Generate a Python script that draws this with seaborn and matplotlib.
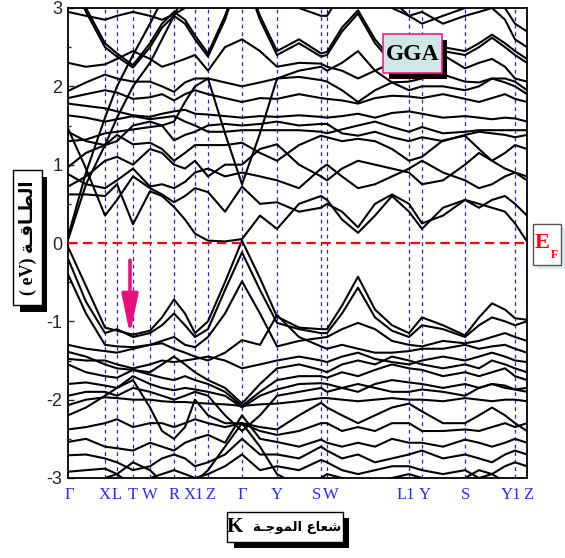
import numpy as np
import pandas as pd
import matplotlib
matplotlib.use("Agg")
import matplotlib.pyplot as plt
import seaborn as sns
from matplotlib.patches import Rectangle

# ---------------- data ----------------
HS_LABELS = ["Γ", "X", "L", "T", "W", "R", "X1", "Z", "Γ", "Y", "S", "W", "L1", "Y", "S", "Y1", "Z"]
HS_POS = [0.00, 0.37, 0.49, 0.65, 0.82, 1.06, 1.27, 1.40, 1.74, 2.09, 2.53, 2.59, 3.41, 3.54, 3.97, 4.47, 4.59]

K = [0.00, 0.18, 0.37, 0.49, 0.65, 0.82, 0.94, 1.06, 1.17, 1.27, 1.40,
     1.57, 1.74, 1.92, 2.09, 2.31, 2.53, 2.59,
     2.74, 2.90, 3.07, 3.24, 3.41, 3.54,
     3.75, 3.97, 4.11, 4.24, 4.37, 4.47, 4.59]

# conduction bands (eV)
Ca = [0.04, 0.75, 1.25, 1.60, 2.00, 2.30, 2.60, 2.90, 3.20, 3.40, 3.40,  3.50, 3.50, 3.50, 3.30, 3.10, 3.00, 3.00,  3.30, 3.40, 3.30, 3.10, 2.90, 2.80,  2.90, 3.00, 3.20, 3.20, 3.00, 2.80, 2.70]
Cb = [0.08, 0.90, 1.60, 2.00, 2.40, 2.80, 3.10, 3.40, 3.50, 3.50, 3.50,  3.50, 3.50, 3.50, 3.50, 3.50, 3.50, 3.50,  3.50, 3.50, 3.50, 3.50, 3.50, 3.50,  3.50, 3.50, 3.50, 3.50, 3.50, 3.50, 3.50]
Ctop1 = [3.50, 3.00, 2.55, 2.42, 2.27, 2.55, 2.80, 2.95, 2.85, 2.65, 2.42,  2.90, 3.50, 2.90, 2.45, 2.60, 2.42, 2.44,  2.75, 2.97, 2.60, 2.34, 2.30, 2.35,  2.50, 2.45, 2.55, 2.66, 2.55, 2.45, 2.35]
Ctop2 = [3.50, 2.95, 2.50, 2.38, 2.24, 2.50, 2.75, 2.90, 2.80, 2.60, 2.38,  2.85, 3.50, 2.85, 2.40, 2.55, 2.38, 2.40,  2.70, 2.93, 2.55, 2.30, 2.26, 2.30,  2.45, 2.40, 2.50, 2.62, 2.50, 2.40, 2.30]
Ctop3 = [2.95, 2.90, 2.85, 2.90, 2.95, 2.90, 2.85, 2.92, 3.00, 3.10, 3.20,  3.50, 3.50, 3.50, 3.20, 3.00, 2.90, 2.90,  3.20, 3.40, 3.20, 3.00, 2.90, 2.95,  2.80, 2.90, 2.95, 3.00, 2.85, 2.60, 2.50]
Ch1 = [2.30, 2.25, 2.28, 2.35, 2.45, 2.35, 2.25, 2.30, 2.35, 2.40, 2.20,  2.50, 2.60, 2.45, 2.25, 2.30, 2.29, 2.25,  2.20, 2.10, 2.20, 2.30, 2.36, 2.53,  2.40, 2.23, 2.30, 2.35, 2.25, 2.10, 2.06]
Cm1 = [1.94, 2.05, 2.15, 2.10, 2.06, 2.06, 2.00, 1.93, 2.05, 2.10, 2.10,  2.05, 2.00, 2.05, 2.10, 2.12, 2.08, 2.06,  1.95, 1.80, 1.95, 2.05, 2.06, 2.10,  2.15, 2.06, 2.05, 2.10, 2.10, 2.06, 1.95]
Cm2 = [1.85, 1.90, 1.95, 1.92, 1.84, 1.86, 1.90, 1.82, 1.90, 1.95, 1.90,  1.85, 1.80, 1.85, 1.84, 1.90, 1.85, 1.84,  1.82, 1.78, 1.85, 1.88, 1.87, 1.85,  1.90, 1.84, 1.80, 1.85, 1.90, 1.84, 1.80]
Cm3 = [1.78, 1.75, 1.72, 1.68, 1.63, 1.61, 1.65, 1.68, 1.70, 1.65, 1.64,  1.62, 1.60, 1.62, 1.61, 1.63, 1.61, 1.60,  1.62, 1.65, 1.60, 1.66, 1.68, 1.65,  1.60, 1.62, 1.60, 1.58, 1.60, 1.59, 1.55]
Cl1 = [1.63, 1.60, 1.55, 1.58, 1.62, 1.58, 1.60, 1.62, 1.55, 1.50, 1.42,  1.42, 1.44, 1.44, 1.44, 1.44, 1.42, 1.40,  1.45, 1.50, 1.55, 1.48, 1.42, 1.48,  1.40, 1.42, 1.44, 1.44, 1.44, 1.44, 1.44]
Cl2 = [1.42, 1.30, 1.25, 1.30, 1.50, 1.55, 1.50, 1.31, 1.38, 1.42, 1.50,  1.52, 1.50, 1.52, 1.55, 1.50, 1.52, 1.52,  1.40, 1.37, 1.42, 1.35, 1.30, 1.35,  1.30, 1.38, 1.42, 1.40, 1.38, 1.35, 1.38]
Cn1 = [0.97, 1.15, 1.25, 1.38, 1.26, 1.28, 1.20, 1.05, 1.15, 1.25, 1.25,  1.25, 1.28, 1.15, 1.05, 1.25, 1.37, 1.35,  1.30, 1.33, 1.30, 1.20, 1.05, 1.10,  1.31, 1.37, 1.20, 1.05, 1.15, 1.25, 1.20]
Cn2 = [0.72, 0.85, 1.05, 1.10, 1.00, 1.20, 1.15, 1.00, 0.95, 1.05, 0.85,  1.00, 1.00, 1.20, 1.26, 1.00, 0.85, 0.80,  0.95, 1.05, 1.00, 0.95, 0.90, 0.75,  0.80, 1.00, 1.15, 1.05, 0.95, 0.90, 0.85]
Co3 = [0.88, 0.75, 0.70, 0.80, 0.95, 0.72, 0.75, 0.70, 0.78, 0.90, 0.95,  0.85, 0.90, 0.85, 0.80, 0.70, 0.95, 1.00,  0.85, 0.70, 0.75, 0.85, 0.95, 1.05,  0.90, 0.80, 0.70, 0.75, 0.85, 0.90, 0.80]
Co2 = [1.46, 0.95, 0.35, 0.55, 0.85, 0.70, 0.62, 0.52, 0.60, 0.70, 0.65,  0.40, 0.72, 0.50, 0.52, 0.40, 0.45, 0.50,  0.40, 0.20, 0.50, 0.62, 0.50, 0.25,  0.35, 0.55, 0.45, 0.55, 0.60, 0.50, 0.35]
Co1 = [0.62, 0.62, 0.60, 0.75, 0.24, 0.66, 0.60, 0.46, 0.30, 0.12, 0.03,  0.02, 0.05, 0.35, 0.18, 0.50, 0.60, 0.55,  0.30, 0.13, 0.35, 0.60, 0.40, 0.18,  0.45, 0.55, 0.50, 0.45, 0.40, 0.25, 0.02]
Cv = [1.30, 1.32, 1.40, 1.42, 1.45, 1.48, 1.50, 1.55, 1.80, 2.00, 2.10,  1.40, 0.75, 1.40, 2.10, 2.20, 2.25, 2.20,  2.30, 2.45, 2.20, 2.05, 1.95, 2.00,  2.00, 1.95, 2.00, 2.10, 2.05, 2.00, 1.90]

# valence bands (eV)
V1 = [-0.05, -0.55, -1.08, -1.12, -1.17, -1.12, -0.95, -0.72, -0.90, -1.15, -1.00,  -0.50, 0.03, -0.45, -0.94, -1.08, -1.10, -1.10,  -0.80, -0.43, -0.85, -1.05, -1.15, -0.95,  -1.05, -1.18, -0.95, -0.77, -0.85, -0.96, -0.98]
V2 = [-0.20, -0.75, -1.15, -1.10, -1.20, -1.15, -1.05, -0.90, -1.05, -1.20, -1.10,  -0.60, -0.12, -0.60, -1.02, -1.10, -1.15, -1.15,  -0.90, -0.57, -0.95, -1.12, -1.20, -1.05,  -1.10, -1.20, -1.05, -0.95, -1.00, -1.05, -1.00]
V3 = [-0.40, -0.90, -1.30, -1.32, -1.33, -1.30, -1.25, -1.20, -1.30, -1.33, -1.20,  -0.90, -0.49, -0.90, -1.32, -1.25, -1.21, -1.20,  -1.10, -1.02, -1.10, -1.25, -1.30, -1.32,  -1.25, -1.28, -1.25, -1.20, -1.15, -1.20, -1.25]
V4 = [-1.30, -1.35, -1.38, -1.40, -1.35, -1.30, -1.28, -1.35, -1.40, -1.45, -1.50,  -1.40, -1.24, -1.30, -0.92, -1.20, -1.32, -1.35,  -1.30, -1.35, -1.40, -1.40, -1.38, -1.35,  -1.35, -1.30, -1.35, -1.32, -1.30, -1.35, -1.40]
V5 = [-1.39, -1.45, -1.55, -1.60, -1.62, -1.65, -1.55, -1.45, -1.55, -1.65, -1.75,  -1.85, -2.05, -1.80, -1.60, -1.55, -1.62, -1.65,  -1.55, -1.50, -1.55, -1.45, -1.50, -1.55,  -1.60, -1.55, -1.60, -1.50, -1.55, -1.60, -1.65]
V6 = [-1.55, -1.65, -1.70, -1.72, -1.62, -1.68, -1.72, -1.75, -1.70, -1.75, -1.80,  -1.90, -2.08, -1.90, -1.75, -1.70, -1.70, -1.72,  -1.65, -1.70, -1.62, -1.55, -1.60, -1.62,  -1.70, -1.65, -1.70, -1.65, -1.60, -1.70, -1.75]
V7 = [-1.80, -1.78, -1.82, -1.85, -1.70, -1.80, -1.85, -1.88, -1.85, -1.87, -1.90,  -1.95, -2.10, -1.95, -1.87, -1.80, -1.79, -1.80,  -1.85, -1.90, -1.80, -1.75, -1.78, -1.80,  -1.85, -1.80, -1.85, -1.80, -1.82, -1.87, -1.85]
V8 = [-2.07, -2.00, -1.97, -1.98, -2.00, -2.00, -2.02, -2.03, -2.03, -2.04, -2.05,  -2.06, -2.08, -2.06, -2.05, -2.02, -1.98, -1.98,  -2.00, -2.02, -2.00, -1.98, -2.00, -2.00,  -2.02, -1.98, -2.00, -2.02, -2.00, -2.00, -2.02]
V9 = [-2.20, -2.10, -1.95, -1.85, -1.75, -2.10, -2.40, -2.50, -2.35, -2.00, -2.20,  -2.30, -2.30, -2.35, -2.38, -2.20, -2.04, -2.10,  -2.20, -2.30, -2.20, -2.10, -2.05, -2.15,  -2.30, -2.30, -2.20, -2.10, -2.20, -2.30, -2.40]
V10 = [-2.38, -2.35, -2.30, -2.25, -2.35, -2.30, -2.30, -2.35, -2.30, -2.25, -2.30,  -2.35, -2.30, -2.40, -2.45, -2.40, -2.30, -2.30,  -2.40, -2.35, -2.40, -2.30, -2.30, -2.40,  -2.40, -2.38, -2.40, -2.35, -2.30, -2.35, -2.30]
V11 = [-2.54, -2.50, -2.60, -2.62, -2.65, -2.55, -2.60, -2.65, -2.55, -2.50, -2.45,  -2.55, -2.20, -2.50, -2.54, -2.60, -2.51, -2.55,  -2.60, -2.55, -2.60, -2.50, -2.55, -2.55,  -2.60, -2.51, -2.55, -2.60, -2.55, -2.50, -2.55]
V12 = [-2.71, -2.70, -2.75, -2.80, -2.90, -2.85, -2.75, -2.70, -2.75, -2.85, -2.80,  -2.70, -2.50, -2.70, -2.70, -2.75, -2.60, -2.65,  -2.75, -2.70, -2.80, -2.75, -2.70, -2.65,  -2.75, -2.70, -2.75, -2.80, -2.70, -2.65, -2.70]
V13 = [-2.92, -2.90, -2.88, -2.95, -3.10, -3.00, -2.95, -2.90, -2.95, -3.00, -2.95,  -2.85, -2.70, -2.90, -2.85, -2.90, -2.77, -2.80,  -2.90, -2.95, -2.90, -2.85, -2.85, -2.90,  -2.95, -2.90, -3.00, -2.95, -2.85, -2.80, -2.85]
V14 = [-3.20, -3.10, -3.00, -2.95, -2.80, -2.90, -3.05, -3.10, -3.00, -3.05, -2.90,  -2.60, -2.30, -2.60, -2.95, -3.10, -3.00, -2.95,  -3.00, -3.10, -3.05, -3.00, -2.95, -3.00,  -3.10, -3.00, -2.90, -2.95, -3.05, -3.10, -3.00]
V15 = [-1.95, -1.90, -1.90, -1.95, -1.85, -1.90, -1.95, -2.00, -1.95, -1.90, -1.95,  -2.20, -2.40, -2.20, -1.95, -1.90, -1.85, -1.90,  -1.85, -1.80, -1.85, -1.90, -1.90, -1.87,  -1.90, -1.95, -1.85, -1.80, -1.85, -1.87, -1.90]
V16 = [-1.48, -1.50, -1.50, -1.55, -1.60, -1.55, -1.50, -1.52, -1.50, -1.48, -1.45,  -1.50, -1.60, -1.55, -1.50, -1.45, -1.50, -1.52,  -1.45, -1.40, -1.48, -1.52, -1.55, -1.50,  -1.45, -1.50, -1.45, -1.40, -1.45, -1.50, -1.52]

BANDS = {"Ca": Ca, "Cb": Cb, "Ctop1": Ctop1, "Ctop2": Ctop2, "Ctop3": Ctop3, "Ch1": Ch1,
         "Cm1": Cm1, "Cm2": Cm2, "Cm3": Cm3, "Cl1": Cl1, "Cl2": Cl2, "Cn1": Cn1, "Cn2": Cn2,
         "Co3": Co3, "Co2": Co2, "Co1": Co1, "Cv": Cv,
         "V1": V1, "V2": V2, "V3": V3, "V4": V4, "V5": V5, "V6": V6, "V7": V7, "V8": V8,
         "V9": V9, "V10": V10, "V11": V11, "V12": V12, "V13": V13, "V14": V14, "V15": V15, "V16": V16}

ARROW_K = 0.62
ARROW_E = (-0.22, -1.17)

# ---------------- text (Arabic, pre-shaped in visual order) ----------------
ar_energy = "\uFE94\u0640\uFED7\uFE8E\u0640\uFEC4\uFEDF\uFE8D"          # الطـاقـة
YLABEL = "( eV) " + ar_energy
ar_wave = "\uFE94\u0640\uFE9F\uFEEE\uFEE4\uFEDF\uFE8D"                   # الموجـة
ar_ray = "\uFEC9\uFE8E\uFECC\uFEB7"                                       # شعاع
XLABEL_AR = ar_wave + " " + ar_ray
XLABEL_K = "K"

# ---------------- plotting ----------------
sns.set_style("ticks")
plt.rcParams["font.family"] = ["Liberation Sans", "DejaVu Sans"]
plt.rcParams["axes.unicode_minus"] = False

W, H = 565, 558
fig = plt.figure(figsize=(W / 100, H / 100), dpi=100)
def fx(px): return px / W
def fy(py): return 1 - py / H

ax = fig.add_axes([fx(68), fy(478), (527 - 68) / W, (478 - 8) / H])

rows = []
for name, vals in BANDS.items():
    for k, e in zip(K, vals):
        rows.append((name, k, e))
df = pd.DataFrame(rows, columns=["band", "k", "E"])

for p in HS_POS[1:-1]:
    ax.axvline(p, color="#2020ff", lw=0.9, ls=(0, (3, 3)), zorder=1)

sns.lineplot(data=df, x="k", y="E", units="band", estimator=None, sort=False,
             color="black", lw=1.5, ax=ax, legend=False, zorder=2)
for ln in ax.lines:
    ln.set_solid_joinstyle("round")

ax.axhline(0, color="red", lw=1.6, ls=(0, (4.3, 2.4)), zorder=3)

ax.annotate("", xy=(ARROW_K, ARROW_E[1]), xytext=(ARROW_K, ARROW_E[0]),
            arrowprops=dict(arrowstyle="-|>,head_length=2.4,head_width=0.5",
                            lw=2.6, color="#e8107a", mutation_scale=10,
                            shrinkA=0, shrinkB=0), zorder=5)

ax.set_xlim(HS_POS[0], HS_POS[-1])
ax.set_ylim(-3, 3)
ax.set_xlabel("")
ax.set_ylabel("")
ax.set_yticks(range(-3, 4))
ax.set_yticks(np.arange(-2.5, 3.0, 1.0), minor=True)
ax.tick_params(axis="y", which="major", direction="in", length=4, width=1, labelsize=13, pad=4)
ax.tick_params(axis="y", which="minor", direction="in", length=2, width=1)
ax.set_xticks(HS_POS)
ax.set_xticklabels([])
ax.tick_params(axis="x", length=0)

# k-point labels: small horizontal nudges (points) so adjacent labels just touch
label_dx = [1, 0, 0, 0, 0, 0, -1, 2, 0, 0, -3, 3, -2, 2, 0, -3, 1]
for lab, p, dx in zip(HS_LABELS, HS_POS, label_dx):
    ax.annotate(lab, xy=(p, 0), xycoords=("data", "axes fraction"),
                xytext=(dx, -12), textcoords="offset points", ha="center", va="center",
                fontfamily="Liberation Serif", fontsize=12, color="#2a2aff",
                annotation_clip=False)

for s in ax.spines.values():
    s.set_linewidth(1.3)
    s.set_color("black")

def box(x0, y0, x1, y1, **kw):
    fig.add_artist(Rectangle((fx(x0), fy(y1)), (x1 - x0) / W, (y1 - y0) / H,
                             transform=fig.transFigure, **kw))

# GGA
box(389, 40, 447, 79, fc="black", ec="none", zorder=10)
box(383, 34, 442, 73, fc="#cfe7e7", ec="#ff1a8c", lw=1.2, zorder=11)
fig.text(fx(412.5), fy(54), "GGA", ha="center", va="center", fontfamily="Liberation Serif",
         fontweight="bold", fontsize=17, color="black", zorder=12)

# E_F
box(537, 228, 565, 269, fc="#d8eef0", ec="none", zorder=10)
box(533, 224, 561, 265, fc="white", ec="#555555", lw=1, zorder=11)
fig.text(fx(542), fy(243), "E", ha="center", va="center", fontfamily="Liberation Serif",
         fontweight="bold", fontsize=16, color="red", zorder=12)
fig.text(fx(554), fy(255), "F", ha="center", va="center", fontfamily="Liberation Serif",
         fontweight="bold", fontsize=8.5, color="red", zorder=12)

# y label
box(20, 177, 47, 312, fc="black", ec="none", zorder=10)
box(13, 170, 42, 305, fc="white", ec="black", lw=1, zorder=11)
fig.text(fx(27.5), fy(237.5), YLABEL, rotation=90, ha="center", va="center",
         fontfamily=["Liberation Serif", "DejaVu Sans"], fontweight="bold", fontsize=13,
         color="black", zorder=12)

# x label
box(234, 518, 349, 548, fc="black", ec="none", zorder=10)
box(227, 512, 343, 542, fc="white", ec="black", lw=1, zorder=11)
fig.text(fx(235), fy(527), XLABEL_K, ha="center", va="center",
         fontfamily="Liberation Serif", fontweight="bold", fontsize=15,
         color="black", zorder=12)
fig.text(fx(341), fy(527), XLABEL_AR, ha="right", va="center",
         fontfamily=["DejaVu Sans"], fontweight="bold", fontsize=9.5,
         color="black", zorder=12)

fig.savefig("out.png", dpi=100)
